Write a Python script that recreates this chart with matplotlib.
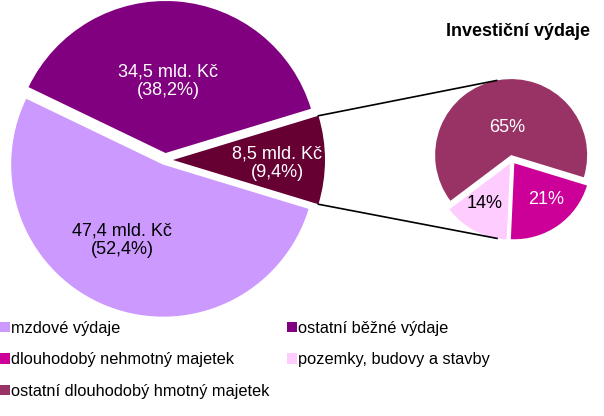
import matplotlib
matplotlib.use("Agg")
import matplotlib.pyplot as plt
import numpy as np

plt.rcParams['font.family'] = ['Liberation Sans', 'DejaVu Sans']

# ---- data ----
main_values = [8.5, 34.5, 47.4]          # mld. Kč: investiční, ostatní běžné, mzdové
main_pcts = ["9,4", "38,2", "52,4"]
main_colors = ["#660033", "#800080", "#CC99FF"]

sub_labels = ["pozemky, budovy a stavby", "dlouhodobý nehmotný majetek",
              "ostatní dlouhodobý hmotný majetek"]
sub_values = [14, 21, 65]
sub_colors = ["#FFCCFF", "#CC0099", "#993366"]

title = "Investiční výdaje"

H = 416
fig = plt.figure(figsize=(6.04, 4.16), dpi=100)
ax = fig.add_axes([0, 0, 1, 1])

# main pie: investment slice centred on the right
start_main = -main_values[0] / sum(main_values) * 360 / 2
w_main, _ = ax.pie(main_values, colors=main_colors, startangle=start_main,
                   counterclock=True, radius=152, center=(165, H - 160),
                   explode=[8, 7, 5], frame=False)

# secondary pie: biggest slice centred near the top
start_sub = 100 - (sub_values[0] + sub_values[1] + sub_values[2] / 2) / sum(sub_values) * 360
w_sub, _ = ax.pie(sub_values, colors=sub_colors, startangle=start_sub,
                  counterclock=True, radius=76, center=(512, H - 160),
                  explode=[4, 4, 5], frame=False)

ax.set_xlim(0, 604)
ax.set_ylim(0, H)
ax.set_aspect('equal')
ax.axis('off')

# connector lines
def pt(w, ang):
    cx, cy = w.center
    return cx + w.r * np.cos(np.radians(ang)), cy + w.r * np.sin(np.radians(ang))

inv = w_main[0]
p1 = pt(inv, inv.theta2)
p2 = pt(inv, inv.theta1)
q1 = pt(w_sub[2], 101)
q2 = pt(w_sub[0], -100)
ax.plot([p1[0], q1[0]], [p1[1], q1[1]], color='black', lw=1.2)
ax.plot([p2[0], q2[0]], [p2[1], q2[1]], color='black', lw=1.2)

fs = 13
def fmt(v):
    return f"{v:.1f}".replace('.', ',')

ax.text(277, H - 163, f"{fmt(main_values[0])} mld. Kč\n({main_pcts[0]}%)", ha='center', va='center',
        color='white', fontsize=fs, linespacing=1.1)
ax.text(168, H - 81, f"{fmt(main_values[1])} mld. Kč\n({main_pcts[1]}%)", ha='center', va='center',
        color='white', fontsize=fs, linespacing=1.1)
ax.text(122, H - 240, f"{fmt(main_values[2])} mld. Kč\n({main_pcts[2]}%)", ha='center', va='center',
        color='black', fontsize=fs, linespacing=1.1)

ax.text(485, H - 204, f"{sub_values[0]}%", ha='center', va='center', color='black', fontsize=fs)
ax.text(546, H - 200, f"{sub_values[1]}%", ha='center', va='center', color='white', fontsize=fs)
ax.text(507, H - 128, f"{sub_values[2]}%", ha='center', va='center', color='white', fontsize=fs)

ax.text(590, H - 32, title, ha='right', va='center', fontweight='bold', fontsize=13)

# legend (column-major order so rows read as in the reference)
handles = [w_main[2], w_sub[1], w_sub[2], w_main[1], w_sub[0]]
labels = ["mzdové výdaje", sub_labels[1], sub_labels[2], "ostatní běžné výdaje", sub_labels[0]]
leg = ax.legend(handles, labels, ncol=2, loc='upper left', bbox_to_anchor=(0.0, 1 - 321 / H),
                bbox_transform=ax.transAxes, frameon=False, fontsize=11.8,
                handlelength=0.6, handleheight=0.6, handletextpad=0.05,
                columnspacing=1.1, labelspacing=1.0, borderaxespad=0, borderpad=0.0)

fig.savefig("out.png", dpi=100)
